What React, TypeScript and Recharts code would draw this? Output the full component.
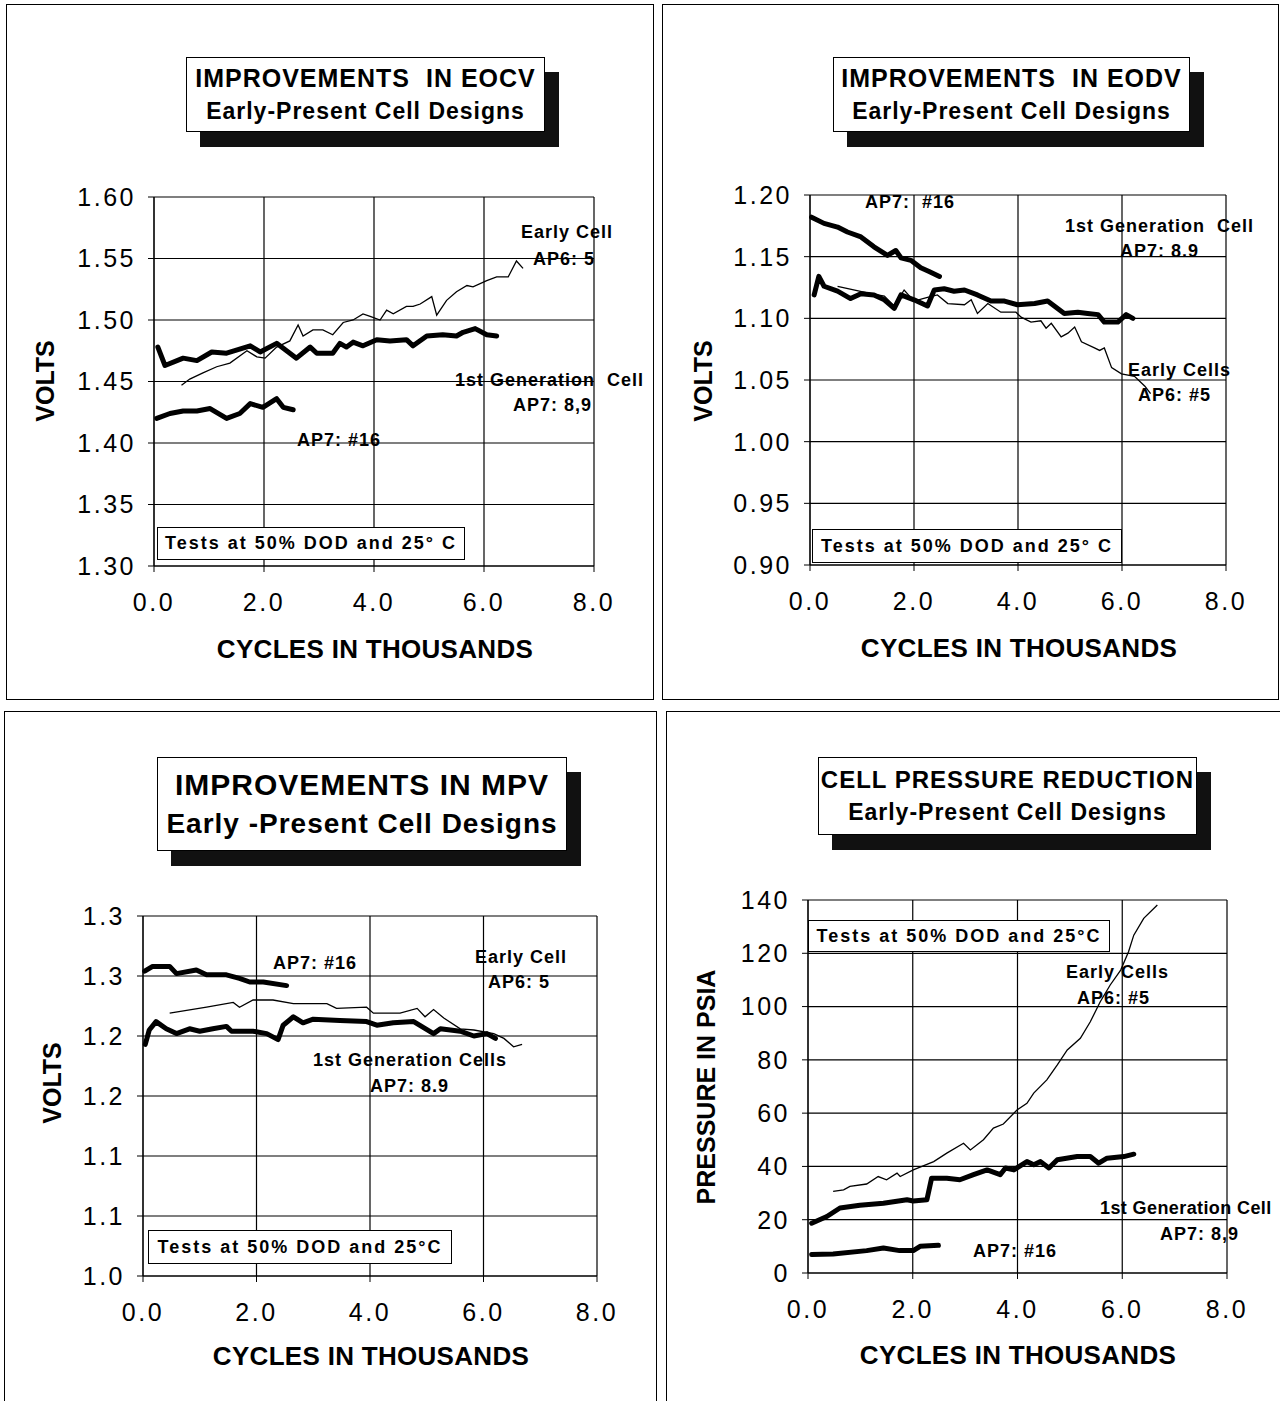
import { CartesianGrid, Line, LineChart, XAxis, YAxis } from "recharts";

const FONT = "'Liberation Sans', Arial, Helvetica, sans-serif";

// x axis shared by all four plots (cycles in thousands)
const cycleTicks = [0, 2, 4, 6, 8];
const cycleLabels = ["0.0", "2.0", "4.0", "6.0", "8.0"];

// --- EOCV ---
const eocvTicks = [1.3, 1.35, 1.4, 1.45, 1.5, 1.55, 1.6];
const eocvLabels = ["1.30", "1.35", "1.40", "1.45", "1.50", "1.55", "1.60"];
const eocvEarly = [
  { x: 0.5, v: 1.447 }, { x: 0.65, v: 1.452 }, { x: 0.89, v: 1.457 }, { x: 1.14, v: 1.462 },
  { x: 1.38, v: 1.465 }, { x: 1.69, v: 1.475 }, { x: 1.87, v: 1.47 }, { x: 2.02, v: 1.469 },
  { x: 2.23, v: 1.478 }, { x: 2.47, v: 1.483 }, { x: 2.62, v: 1.496 }, { x: 2.71, v: 1.487 },
  { x: 2.89, v: 1.492 }, { x: 3.07, v: 1.492 }, { x: 3.25, v: 1.488 }, { x: 3.44, v: 1.498 },
  { x: 3.62, v: 1.5 }, { x: 3.8, v: 1.505 }, { x: 3.93, v: 1.503 }, { x: 4.11, v: 1.5 },
  { x: 4.23, v: 1.508 }, { x: 4.35, v: 1.505 }, { x: 4.59, v: 1.511 }, { x: 4.71, v: 1.511 },
  { x: 4.84, v: 1.513 }, { x: 5.05, v: 1.519 }, { x: 5.14, v: 1.504 }, { x: 5.32, v: 1.516 },
  { x: 5.5, v: 1.523 }, { x: 5.69, v: 1.528 }, { x: 5.8, v: 1.527 }, { x: 6.05, v: 1.532 },
  { x: 6.23, v: 1.535 }, { x: 6.44, v: 1.535 }, { x: 6.59, v: 1.548 }, { x: 6.71, v: 1.542 },
];
const eocvFirstGen = [
  { x: 0.07, v: 1.478 }, { x: 0.2, v: 1.463 }, { x: 0.53, v: 1.469 }, { x: 0.78, v: 1.467 },
  { x: 1.05, v: 1.474 }, { x: 1.32, v: 1.473 }, { x: 1.75, v: 1.479 }, { x: 1.93, v: 1.474 },
  { x: 2.23, v: 1.481 }, { x: 2.59, v: 1.469 }, { x: 2.84, v: 1.478 }, { x: 2.96, v: 1.473 },
  { x: 3.25, v: 1.473 }, { x: 3.38, v: 1.481 }, { x: 3.5, v: 1.478 }, { x: 3.62, v: 1.482 },
  { x: 3.8, v: 1.479 }, { x: 4.05, v: 1.484 }, { x: 4.29, v: 1.483 }, { x: 4.59, v: 1.484 },
  { x: 4.71, v: 1.479 }, { x: 4.96, v: 1.487 }, { x: 5.25, v: 1.488 }, { x: 5.5, v: 1.487 },
  { x: 5.62, v: 1.49 }, { x: 5.84, v: 1.493 }, { x: 6.05, v: 1.488 }, { x: 6.23, v: 1.487 },
];
const eocvAp7n16 = [
  { x: 0.05, v: 1.42 }, { x: 0.29, v: 1.424 }, { x: 0.53, v: 1.426 }, { x: 0.78, v: 1.426 },
  { x: 1.02, v: 1.428 }, { x: 1.32, v: 1.42 }, { x: 1.56, v: 1.424 }, { x: 1.75, v: 1.432 },
  { x: 1.98, v: 1.429 }, { x: 2.23, v: 1.436 }, { x: 2.35, v: 1.429 }, { x: 2.53, v: 1.427 },
];

// --- EODV ---
const eodvTicks = [0.9, 0.95, 1.0, 1.05, 1.1, 1.15, 1.2];
const eodvLabels = ["0.90", "0.95", "1.00", "1.05", "1.10", "1.15", "1.20"];
const eodvAp7n16 = [
  { x: 0.03, v: 1.182 }, { x: 0.27, v: 1.177 }, { x: 0.53, v: 1.174 }, { x: 0.72, v: 1.17 },
  { x: 0.98, v: 1.166 }, { x: 1.23, v: 1.158 }, { x: 1.49, v: 1.151 }, { x: 1.65, v: 1.155 },
  { x: 1.75, v: 1.149 }, { x: 1.94, v: 1.147 }, { x: 2.13, v: 1.141 }, { x: 2.29, v: 1.138 },
  { x: 2.49, v: 1.134 },
];
const eodvFirstGen = [
  { x: 0.08, v: 1.119 }, { x: 0.17, v: 1.134 }, { x: 0.27, v: 1.126 }, { x: 0.53, v: 1.122 },
  { x: 0.78, v: 1.116 }, { x: 0.98, v: 1.12 }, { x: 1.23, v: 1.119 }, { x: 1.43, v: 1.115 },
  { x: 1.62, v: 1.108 }, { x: 1.75, v: 1.119 }, { x: 2.0, v: 1.115 }, { x: 2.26, v: 1.11 },
  { x: 2.39, v: 1.123 }, { x: 2.58, v: 1.124 }, { x: 2.77, v: 1.122 }, { x: 2.97, v: 1.123 },
  { x: 3.22, v: 1.119 }, { x: 3.48, v: 1.114 }, { x: 3.74, v: 1.114 }, { x: 3.99, v: 1.111 },
  { x: 4.32, v: 1.112 }, { x: 4.57, v: 1.114 }, { x: 4.89, v: 1.104 }, { x: 5.15, v: 1.105 },
  { x: 5.34, v: 1.104 }, { x: 5.54, v: 1.103 }, { x: 5.66, v: 1.097 }, { x: 5.92, v: 1.097 },
  { x: 6.08, v: 1.103 }, { x: 6.21, v: 1.1 },
];
const eodvEarly = [
  { x: 0.53, v: 1.126 }, { x: 1.17, v: 1.12 }, { x: 1.43, v: 1.118 }, { x: 1.62, v: 1.11 },
  { x: 1.81, v: 1.123 }, { x: 2.0, v: 1.114 }, { x: 2.26, v: 1.117 }, { x: 2.45, v: 1.119 },
  { x: 2.65, v: 1.112 }, { x: 2.97, v: 1.111 }, { x: 3.1, v: 1.115 }, { x: 3.22, v: 1.104 },
  { x: 3.42, v: 1.112 }, { x: 3.67, v: 1.105 }, { x: 3.96, v: 1.105 }, { x: 4.06, v: 1.101 },
  { x: 4.25, v: 1.097 }, { x: 4.44, v: 1.098 }, { x: 4.54, v: 1.092 }, { x: 4.64, v: 1.096 },
  { x: 4.83, v: 1.085 }, { x: 4.96, v: 1.088 }, { x: 5.09, v: 1.093 }, { x: 5.22, v: 1.081 },
  { x: 5.47, v: 1.076 }, { x: 5.57, v: 1.074 }, { x: 5.66, v: 1.076 }, { x: 5.8, v: 1.06 },
  { x: 5.99, v: 1.055 }, { x: 6.24, v: 1.053 }, { x: 6.44, v: 1.045 }, { x: 6.55, v: 1.039 },
];

// --- MPV --- (labels are rounded to one decimal in the original)
const mpvTicks = [1.0, 1.05, 1.1, 1.15, 1.2, 1.25, 1.3];
const mpvLabels = ["1.0", "1.1", "1.1", "1.2", "1.2", "1.3", "1.3"];
const mpvAp7n16 = [
  { x: 0.03, v: 1.254 }, { x: 0.17, v: 1.258 }, { x: 0.47, v: 1.258 }, { x: 0.59, v: 1.252 },
  { x: 0.94, v: 1.255 }, { x: 1.12, v: 1.251 }, { x: 1.47, v: 1.251 }, { x: 1.7, v: 1.248 },
  { x: 1.88, v: 1.245 }, { x: 2.12, v: 1.245 }, { x: 2.53, v: 1.242 },
];
const mpvEarly = [
  { x: 0.47, v: 1.219 }, { x: 1.12, v: 1.224 }, { x: 1.59, v: 1.228 }, { x: 1.7, v: 1.224 },
  { x: 1.94, v: 1.23 }, { x: 2.29, v: 1.23 }, { x: 2.65, v: 1.227 }, { x: 3.24, v: 1.227 },
  { x: 3.41, v: 1.223 }, { x: 3.94, v: 1.224 }, { x: 4.06, v: 1.219 }, { x: 4.53, v: 1.219 },
  { x: 4.83, v: 1.223 }, { x: 4.97, v: 1.216 }, { x: 5.12, v: 1.222 }, { x: 5.3, v: 1.215 },
  { x: 5.59, v: 1.206 }, { x: 5.83, v: 1.205 }, { x: 6.18, v: 1.202 }, { x: 6.36, v: 1.198 },
  { x: 6.53, v: 1.191 }, { x: 6.68, v: 1.193 },
];
const mpvFirstGen = [
  { x: 0.04, v: 1.193 }, { x: 0.11, v: 1.205 }, { x: 0.23, v: 1.212 }, { x: 0.41, v: 1.206 },
  { x: 0.59, v: 1.202 }, { x: 0.82, v: 1.206 }, { x: 1.0, v: 1.204 }, { x: 1.23, v: 1.206 },
  { x: 1.47, v: 1.208 }, { x: 1.56, v: 1.204 }, { x: 1.94, v: 1.204 }, { x: 2.18, v: 1.202 },
  { x: 2.38, v: 1.197 }, { x: 2.47, v: 1.209 }, { x: 2.65, v: 1.216 }, { x: 2.82, v: 1.211 },
  { x: 3.0, v: 1.214 }, { x: 3.47, v: 1.213 }, { x: 3.94, v: 1.212 }, { x: 4.12, v: 1.209 },
  { x: 4.41, v: 1.211 }, { x: 4.77, v: 1.212 }, { x: 5.12, v: 1.202 }, { x: 5.24, v: 1.206 },
  { x: 5.59, v: 1.204 }, { x: 5.83, v: 1.2 }, { x: 6.06, v: 1.202 }, { x: 6.21, v: 1.198 },
];

// --- cell pressure (psia) ---
const psiTicks = [0, 20, 40, 60, 80, 100, 120, 140];
const psiLabels = ["0", "20", "40", "60", "80", "100", "120", "140"];
const psiEarly = [
  { x: 0.48, v: 30.6 }, { x: 0.68, v: 31.2 }, { x: 0.8, v: 32.5 }, { x: 1.12, v: 33.4 },
  { x: 1.34, v: 36.2 }, { x: 1.5, v: 35.0 }, { x: 1.7, v: 37.5 }, { x: 1.76, v: 36.2 },
  { x: 2.01, v: 38.7 }, { x: 2.4, v: 41.8 }, { x: 2.65, v: 45.0 }, { x: 2.97, v: 48.7 },
  { x: 3.1, v: 46.2 }, { x: 3.35, v: 50.0 }, { x: 3.54, v: 54.4 }, { x: 3.73, v: 55.9 },
  { x: 3.99, v: 61.2 }, { x: 4.18, v: 63.7 }, { x: 4.31, v: 67.5 }, { x: 4.56, v: 72.5 },
  { x: 4.76, v: 78.1 }, { x: 4.95, v: 83.7 }, { x: 5.2, v: 88.1 }, { x: 5.39, v: 94.3 },
  { x: 5.58, v: 101.8 }, { x: 5.77, v: 108.1 }, { x: 5.97, v: 113.7 }, { x: 6.12, v: 120.6 },
  { x: 6.22, v: 126.8 }, { x: 6.41, v: 133.1 }, { x: 6.67, v: 138.1 },
];
const psiFirstGen = [
  { x: 0.07, v: 18.7 }, { x: 0.36, v: 21.2 }, { x: 0.61, v: 24.4 }, { x: 0.99, v: 25.4 },
  { x: 1.44, v: 26.2 }, { x: 1.89, v: 27.5 }, { x: 2.01, v: 27.0 }, { x: 2.27, v: 27.5 },
  { x: 2.36, v: 35.6 }, { x: 2.65, v: 35.6 }, { x: 2.9, v: 35.0 }, { x: 3.16, v: 36.9 },
  { x: 3.42, v: 38.7 }, { x: 3.67, v: 36.9 }, { x: 3.77, v: 39.4 }, { x: 3.93, v: 38.7 },
  { x: 4.18, v: 41.8 }, { x: 4.31, v: 40.6 }, { x: 4.44, v: 41.8 }, { x: 4.6, v: 39.4 },
  { x: 4.76, v: 42.5 }, { x: 5.14, v: 43.7 }, { x: 5.39, v: 43.7 }, { x: 5.55, v: 41.2 },
  { x: 5.71, v: 43.1 }, { x: 6.03, v: 43.7 }, { x: 6.22, v: 44.6 },
];
const psiAp7n16 = [
  { x: 0.07, v: 6.9 }, { x: 0.48, v: 7.1 }, { x: 1.12, v: 8.4 }, { x: 1.44, v: 9.4 },
  { x: 1.75, v: 8.4 }, { x: 2.01, v: 8.4 }, { x: 2.14, v: 10.0 }, { x: 2.49, v: 10.4 },
];

type Pt = { x: number; v: number };
type Note = { text: string; x: number; y: number; tight?: boolean };
interface PanelSpec {
  frame: [number, number, number, number];
  plot: [number, number, number, number];
  yDomain: [number, number];
  yTicks: number[];
  yLabels: string[];
  thin: Pt[][];
  thick: Pt[][];
  title: [string, string];
  titleBox: [number, number, number, number];
  titleFont: [number, number, number];
  notes: Note[];
  tests: { text: string; box: [number, number, number, number] };
  yTitle: string;
  yTitleAt: [number, number];
  xTitleAt: [number, number];
}

const panels: PanelSpec[] = [
  {
    frame: [6, 4, 654, 700],
    plot: [154, 197, 594, 566],
    yDomain: [1.3, 1.6],
    yTicks: eocvTicks,
    yLabels: eocvLabels,
    thin: [eocvEarly],
    thick: [eocvFirstGen, eocvAp7n16],
    title: ["IMPROVEMENTS  IN EOCV", "Early-Present Cell Designs"],
    titleBox: [186, 57, 359, 75],
    titleFont: [25, 23, 33],
    notes: [
      { text: "Early Cell", x: 521, y: 232 },
      { text: "AP6: 5", x: 533, y: 259 },
      { text: "1st Generation  Cell", x: 455, y: 380 },
      { text: "AP7: 8,9", x: 513, y: 405 },
      { text: "AP7: #16", x: 297, y: 440 },
    ],
    tests: { text: "Tests at 50% DOD and 25° C", box: [157, 527, 308, 33] },
    yTitle: "VOLTS",
    yTitleAt: [45, 381],
    xTitleAt: [375, 649],
  },
  {
    frame: [662, 4, 1279, 700],
    plot: [810, 195, 1226, 565],
    yDomain: [0.9, 1.2],
    yTicks: eodvTicks,
    yLabels: eodvLabels,
    thin: [eodvEarly],
    thick: [eodvFirstGen, eodvAp7n16],
    title: ["IMPROVEMENTS  IN EODV", "Early-Present Cell Designs"],
    titleBox: [833, 57, 357, 75],
    titleFont: [25, 23, 33],
    notes: [
      { text: "AP7:  #16", x: 865, y: 202 },
      { text: "1st Generation  Cell", x: 1065, y: 226 },
      { text: "AP7: 8.9", x: 1120, y: 251 },
      { text: "Early Cells", x: 1128, y: 370 },
      { text: "AP6: #5", x: 1138, y: 395 },
    ],
    tests: { text: "Tests at 50% DOD and 25° C", box: [812, 529, 310, 34] },
    yTitle: "VOLTS",
    yTitleAt: [703, 381],
    xTitleAt: [1019, 648],
  },
  {
    frame: [4, 711, 657, 1410],
    plot: [143, 916, 597, 1276],
    yDomain: [1.0, 1.3],
    yTicks: mpvTicks,
    yLabels: mpvLabels,
    thin: [mpvEarly],
    thick: [mpvFirstGen, mpvAp7n16],
    title: ["IMPROVEMENTS IN MPV", "Early -Present Cell Designs"],
    titleBox: [157, 757, 410, 94],
    titleFont: [30, 28, 39],
    notes: [
      { text: "AP7: #16", x: 273, y: 963 },
      { text: "Early Cell", x: 475, y: 957 },
      { text: "AP6: 5", x: 488, y: 982 },
      { text: "1st Generation Cells", x: 313, y: 1060 },
      { text: "AP7: 8.9", x: 370, y: 1086 },
    ],
    tests: { text: "Tests at 50% DOD and 25°C", box: [148, 1230, 304, 34] },
    yTitle: "VOLTS",
    yTitleAt: [52, 1083],
    xTitleAt: [371, 1356],
  },
  {
    frame: [666, 711, 1290, 1410],
    plot: [808, 900, 1227, 1273],
    yDomain: [0, 140],
    yTicks: psiTicks,
    yLabels: psiLabels,
    thin: [psiEarly],
    thick: [psiFirstGen, psiAp7n16],
    title: ["CELL PRESSURE REDUCTION", "Early-Present Cell Designs"],
    titleBox: [818, 757, 379, 78],
    titleFont: [24, 23, 32],
    notes: [
      { text: "Early Cells", x: 1066, y: 972 },
      { text: "AP6: #5", x: 1077, y: 998 },
      { text: "1st Generation Cell", x: 1100, y: 1208, tight: true },
      { text: "AP7: 8,9", x: 1160, y: 1234 },
      { text: "AP7: #16", x: 973, y: 1251 },
    ],
    tests: { text: "Tests at 50% DOD and 25°C", box: [808, 920, 302, 32] },
    yTitle: "PRESSURE IN PSIA",
    yTitleAt: [706, 1087],
    xTitleAt: [1018, 1355],
  },
];

const PAD_L = 150;
const PAD_T = 20;
const PAD_R = 60;
const PAD_B = 110;

const tickStyle = { fill: "#000", fontSize: 25, fontFamily: FONT, letterSpacing: 2.5 };

function Panel({ p }: { p: PanelSpec }) {
  const [x0, y0, x1, y1] = p.plot;
  const [fl, ft, fr, fb] = p.frame;
  const [tl, tt, tw, th] = p.titleBox;
  const [bl, bt, bw, bh] = p.tests.box;
  return (
    <>
      <div
        style={{
          position: "absolute",
          left: fl,
          top: ft,
          width: fr - fl,
          height: fb - ft,
          border: "1.5px solid #000",
          boxSizing: "border-box",
        }}
      />
      <div style={{ position: "absolute", left: x0 - PAD_L, top: y0 - PAD_T }}>
        <LineChart
          width={x1 - x0 + PAD_L + PAD_R}
          height={y1 - y0 + PAD_T + PAD_B}
          margin={{ top: PAD_T, right: PAD_R, bottom: 0, left: 0 }}
        >
          <CartesianGrid stroke="#000" strokeWidth={1.2} />
          <XAxis
            type="number"
            dataKey="x"
            domain={[0, 8]}
            ticks={cycleTicks}
            interval={0}
            tickFormatter={(_: number, i: number) => cycleLabels[i]}
            height={PAD_B}
            stroke="#000"
            tick={tickStyle}
            tickSize={6}
            tickMargin={21}
          />
          <YAxis
            type="number"
            domain={p.yDomain}
            ticks={p.yTicks}
            interval={0}
            tickFormatter={(_: number, i: number) => p.yLabels[i]}
            width={PAD_L}
            stroke="#000"
            tick={tickStyle}
            tickSize={6}
            tickMargin={12}
          />
          {p.thin.map((d, i) => (
            <Line
              key={"thin" + i}
              data={d}
              dataKey="v"
              type="linear"
              stroke="#000"
              strokeWidth={1.3}
              dot={false}
              activeDot={false}
              isAnimationActive={false}
            />
          ))}
          {p.thick.map((d, i) => (
            <Line
              key={"thick" + i}
              data={d}
              dataKey="v"
              type="linear"
              stroke="#000"
              strokeWidth={5}
              strokeLinejoin="round"
              strokeLinecap="round"
              dot={false}
              activeDot={false}
              isAnimationActive={false}
            />
          ))}
        </LineChart>
      </div>

      {/* title box with drop shadow */}
      <div
        style={{
          position: "absolute",
          left: tl,
          top: tt,
          width: tw,
          height: th,
          border: "1.5px solid #000",
          background: "#fff",
          boxShadow: "14px 15px 0 #111",
          boxSizing: "border-box",
          display: "flex",
          flexDirection: "column",
          alignItems: "center",
          justifyContent: "center",
          fontWeight: "bold",
          whiteSpace: "pre",
        }}
      >
        <div style={{ fontSize: p.titleFont[0], letterSpacing: 1, lineHeight: p.titleFont[2] + "px" }}>
          {p.title[0]}
        </div>
        <div style={{ fontSize: p.titleFont[1], letterSpacing: 1, lineHeight: p.titleFont[2] + "px" }}>
          {p.title[1]}
        </div>
      </div>

      {p.notes.map((n, i) => (
        <div
          key={i}
          style={{
            position: "absolute",
            left: n.x,
            top: n.y - 11,
            fontSize: 18,
            lineHeight: "22px",
            fontWeight: "bold",
            letterSpacing: n.tight ? 0.4 : 1,
            whiteSpace: "pre",
          }}
        >
          {n.text}
        </div>
      ))}

      <div
        style={{
          position: "absolute",
          left: bl,
          top: bt,
          width: bw,
          height: bh,
          border: "1.5px solid #000",
          background: "#fff",
          boxSizing: "border-box",
          display: "flex",
          alignItems: "center",
          justifyContent: "center",
          fontSize: 18,
          fontWeight: "bold",
          letterSpacing: 2,
          whiteSpace: "pre",
        }}
      >
        {p.tests.text}
      </div>

      <div
        style={{
          position: "absolute",
          left: p.xTitleAt[0],
          top: p.xTitleAt[1],
          transform: "translate(-50%, -50%)",
          fontSize: 26,
          letterSpacing: 0.3,
          fontWeight: "bold",
          whiteSpace: "nowrap",
        }}
      >
        CYCLES IN THOUSANDS
      </div>
      <div
        style={{
          position: "absolute",
          left: p.yTitleAt[0],
          top: p.yTitleAt[1],
          transform: "translate(-50%, -50%) rotate(-90deg)",
          fontSize: 25,
          fontWeight: "bold",
          whiteSpace: "nowrap",
        }}
      >
        {p.yTitle}
      </div>
    </>
  );
}

export default function App() {
  return (
    <div
      style={{
        position: "absolute",
        left: 0,
        top: 0,
        width: 1280,
        height: 1401,
        overflow: "hidden",
        background: "#fff",
        fontFamily: FONT,
        color: "#000",
      }}
    >
      {panels.map((p, i) => (
        <Panel key={i} p={p} />
      ))}
    </div>
  );
}
